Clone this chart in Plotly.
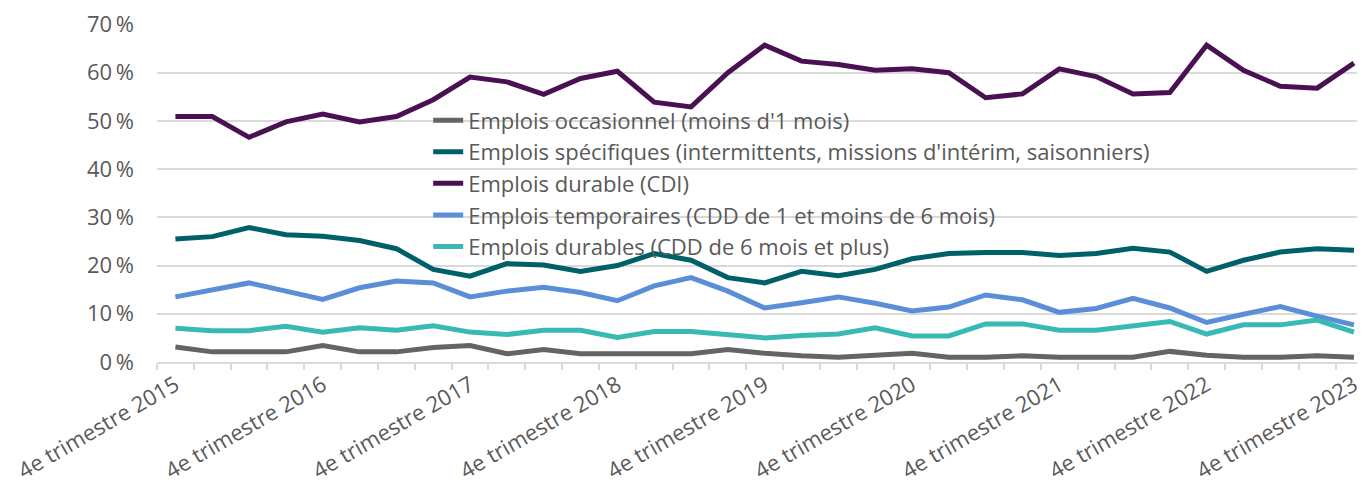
import plotly.graph_objects as go

categories = ["4e trimestre 2015"]
for y in range(2016, 2024):
    categories += [f"1er trimestre {y}", f"2e trimestre {y}", f"3e trimestre {y}", f"4e trimestre {y}"]

y_tick_values = [0, 10, 20, 30, 40, 50, 60, 70]
y_tick_labels = ["0\u2009%", "10\u2009%", "20\u2009%", "30\u2009%", "40\u2009%", "50\u2009%", "60\u2009%", "70\u2009%"]

occasionnel = [3.1, 2.1, 2.1, 2.1, 3.4, 2.1, 2.1, 3.0, 3.4, 1.7, 2.6, 1.7, 1.7, 1.7, 1.7,
               2.6, 1.8, 1.3, 1.0, 1.4, 1.8, 1.0, 1.0, 1.3, 1.0, 1.0, 1.0, 2.2, 1.4, 1.0, 1.0, 1.3, 1.0]
specifiques = [25.5, 26.0, 27.9, 26.4, 26.1, 25.2, 23.5, 19.2, 17.8, 20.4, 20.1, 18.8, 20.0, 22.5, 21.1,
               17.5, 16.4, 18.8, 17.9, 19.2, 21.4, 22.5, 22.7, 22.7, 22.1, 22.5, 23.6, 22.8, 18.8, 21.1, 22.8, 23.5, 23.2]
durable_cdi = [50.9, 50.9, 46.6, 49.8, 51.4, 49.8, 50.9, 54.4, 59.1, 58.1, 55.5, 58.8, 60.3, 53.9, 52.9,
               60.0, 65.7, 62.4, 61.7, 60.5, 60.8, 60.0, 54.8, 55.6, 60.8, 59.2, 55.6, 55.9, 65.7, 60.5, 57.2, 56.8, 62.0]
temporaires = [13.5, 14.9, 16.4, 14.7, 13.0, 15.4, 16.8, 16.4, 13.5, 14.7, 15.5, 14.4, 12.7, 15.8, 17.5,
               14.7, 11.2, 12.3, 13.5, 12.2, 10.6, 11.4, 13.9, 12.9, 10.3, 11.1, 13.2, 11.2, 8.2, 9.9, 11.5, 9.5, 7.7]
durables_cdd = [7.0, 6.5, 6.5, 7.4, 6.2, 7.1, 6.6, 7.5, 6.2, 5.7, 6.6, 6.6, 5.1, 6.3, 6.3,
                5.7, 5.0, 5.5, 5.8, 7.1, 5.4, 5.4, 7.9, 7.9, 6.6, 6.6, 7.4, 8.4, 5.8, 7.7, 7.7, 8.7, 6.2]

series = [
    ("Emplois occasionnel (moins d'1 mois)", occasionnel, "#646464"),
    ("Emplois spécifiques (intermittents, missions d'intérim, saisonniers)", specifiques, "#00606a"),
    ("Emplois durable (CDI)", durable_cdi, "#4a1152"),
    ("Emplois temporaires (CDD de 1 et moins de 6 mois)", temporaires, "#5a8ed9"),
    ("Emplois durables (CDD de 6 mois et plus)", durables_cdd, "#38b9b4"),
]

fig = go.Figure()
for name, vals, color in series:
    fig.add_trace(go.Scatter(x=categories, y=vals, name=name, mode="lines",
                             line=dict(color=color, width=5)))

ticktext = [c if c.startswith("4e") else "" for c in categories]

FONT = "Open Sans"
TXT = "#595959"
fig.update_layout(
    width=1357, height=487,
    margin=dict(l=149, r=0, t=16, b=133),
    paper_bgcolor="white", plot_bgcolor="white",
    font=dict(family=FONT, size=22, color=TXT),
    showlegend=True,
    legend=dict(x=0.2245, y=0.777, xanchor="left", yanchor="top",
                bgcolor="rgba(0,0,0,0)", font=dict(family=FONT, size=22, color=TXT),
                tracegroupgap=0),
    xaxis=dict(type="category", categoryorder="array", categoryarray=categories,
               tickmode="array", tickvals=categories, ticktext=ticktext,
               tickson="boundaries", ticks="outside", ticklen=6, tickcolor="#d9d9d9",
               tickwidth=1.5, tickangle=-30, showgrid=False,
               showline=True, linecolor="#d9d9d9", linewidth=1.5,
               range=[-0.5, 32.3], tickfont=dict(family=FONT, size=22, color=TXT)),
    yaxis=dict(range=[0, 70.1], tickmode="array", tickvals=y_tick_values, ticktext=y_tick_labels,
               showgrid=True,
               gridcolor="#d9d9d9", gridwidth=1.5, zeroline=False, showline=False,
               ticklabelstandoff=22, tickfont=dict(family=FONT, size=22, color=TXT)),
)

fig.write_html("out.html")
